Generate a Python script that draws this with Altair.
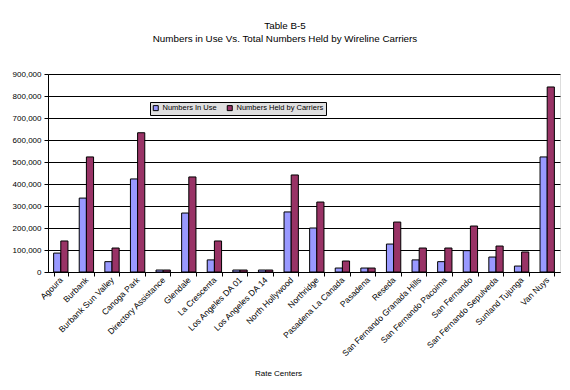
import altair as alt
import pandas as pd

centers = ["Agoura", "Burbank", "Burbank Sun Valley", "Canoga Park", "Directory Assistance",
           "Glendale", "La Crescenta", "Los Angeles DA 01", "Los Angeles DA 14", "North Hollywood",
           "Northridge", "Pasadena La Canada", "Pasadena", "Reseda", "San Fernando Granada Hills",
           "San Fernando Pacoima", "San Fernando", "San Fernando Sepulveda", "Sunland Tujunga", "Van Nuys"]
in_use = [86000, 336000, 47000, 423000, 9000, 268000, 55000, 9000, 9000, 273000,
          200000, 18000, 18000, 127000, 55000, 47000, 97000, 68000, 27000, 523000]
held = [141000, 523000, 109000, 633000, 9000, 432000, 141000, 9000, 9000, 441000,
        318000, 50000, 18000, 227000, 109000, 109000, 209000, 118000, 91000, 841000]
series = ["Numbers In Use", "Numbers Held by Carriers"]
colors = ["#9999FF", "#993366"]
y_ticks = [0, 100000, 200000, 300000, 400000, 500000, 600000, 700000, 800000, 900000]

rows = []
for c, u, h in zip(centers, in_use, held):
    rows.append({"center": c, "series": series[0], "value": u})
    rows.append({"center": c, "series": series[1], "value": h})
df = pd.DataFrame(rows)

FONT = "Liberation Sans"

chart = alt.Chart(df).mark_bar(stroke="black", strokeWidth=1).encode(
    x=alt.X("center:N", sort=centers, title="Rate Centers",
            scale=alt.Scale(paddingInner=0.44, paddingOuter=0.22),
            axis=alt.Axis(labelAngle=315, labelAlign="right", labelBaseline="middle",
                          tickBand="extent", tickColor="black", tickSize=4,
                          domainColor="black", labelFont=FONT, labelFontSize=8.5,
                          labelColor="black", labelPadding=2,
                          titleFont=FONT, titleFontSize=8, titleFontWeight="normal",
                          titleColor="black", titleY=97, titleX=230)),
    xOffset=alt.XOffset("series:N", sort=series,
                        scale=alt.Scale(paddingInner=0, paddingOuter=0)),
    y=alt.Y("value:Q", title=None,
            scale=alt.Scale(domain=[0, 900000], nice=False),
            axis=alt.Axis(values=y_ticks, format=",.0f", grid=True, gridColor="black",
                          gridOpacity=1, gridWidth=1, tickColor="black", tickSize=4,
                          domainColor="black", labelFont=FONT, labelFontSize=8,
                          labelColor="black", labelPadding=3)),
    color=alt.Color("series:N", sort=series,
                    scale=alt.Scale(domain=series, range=colors),
                    legend=alt.Legend(orient="none", legendX=102, legendY=28,
                                      direction="horizontal", title=None,
                                      fillColor="#E0E0E0", strokeColor="black",
                                      padding=2, symbolType="square", symbolSize=25,
                                      symbolStrokeColor="black", symbolStrokeWidth=1,
                                      symbolOpacity=1,
                                      labelFont=FONT, labelFontSize=7.5, labelColor="black",
                                      columnPadding=8, labelOffset=3)),
).properties(
    width=512, height=198,
    title=alt.TitleParams(text="Table B-5",
                          subtitle="Numbers in Use Vs. Total Numbers Held by Wireline Carriers",
                          font=FONT, fontSize=9.8, fontWeight="normal", color="black",
                          subtitleFont=FONT, subtitleFontSize=9.8, subtitleColor="black",
                          subtitlePadding=3, anchor="middle", offset=26, dx=-19),
    autosize=alt.AutoSizeParams(type="none"),
    padding={"left": 40, "top": 66, "right": 2, "bottom": 110},
).configure_view(stroke="black", strokeWidth=1).configure(background="white")

chart.save("out.html", embed_options={"renderer": "svg", "actions": False})
